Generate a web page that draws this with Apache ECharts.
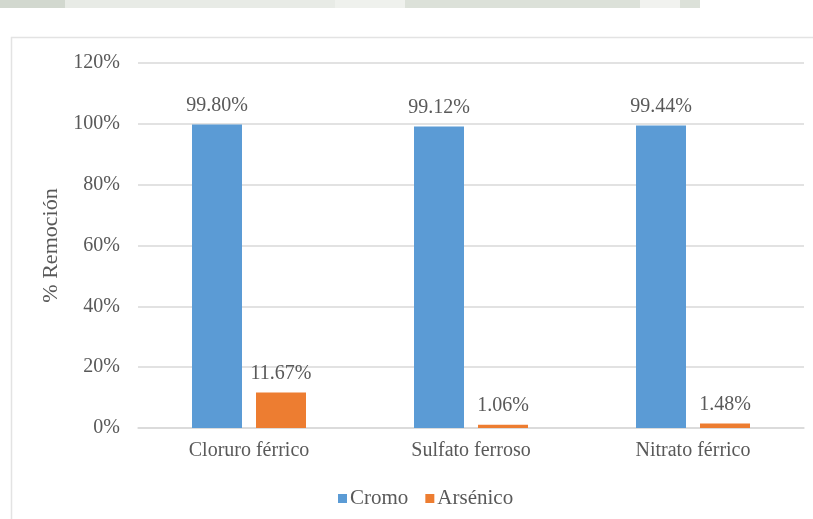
<!DOCTYPE html>
<html>
<head>
<meta charset="utf-8">
<script src="https://cdn.jsdelivr.net/npm/echarts@6/dist/echarts.min.js"></script>
<style>
  html, body { margin: 0; padding: 0; background: #ffffff; }
  #chart { width: 813px; height: 519px; }
</style>
</head>
<body>
<div id="chart"></div>
<script>
// Categories: coagulant used
const categories = ['Cloruro férrico', 'Sulfato ferroso', 'Nitrato férrico'];
// Removal percentages per metal
const cromo = [99.80, 99.12, 99.44];
const arsenico = [11.67, 1.06, 1.48];
// Y axis ticks
const yTicks = [0, 20, 40, 60, 80, 100, 120];

const font = 'Liberation Serif, Times New Roman, serif';
const textColor = '#595959';

const chart = echarts.init(document.getElementById('chart'), null, { renderer: 'canvas' });

const labelStyle = {
  show: true,
  position: 'top',
  distance: 9,
  fontFamily: font,
  fontSize: 20,
  color: textColor,
  formatter: p => p.value.toFixed(2) + '%'
};

chart.setOption({
  backgroundColor: '#ffffff',
  animation: false,
  graphic: [
    // faded header strip at the very top
    { type: 'rect', shape: { x: 0, y: 0, width: 700, height: 8 }, style: { fill: '#dce1d9' }, silent: true },
    { type: 'rect', shape: { x: 0, y: 0, width: 65, height: 8 }, style: { fill: '#d2d8cf' }, silent: true },
    { type: 'rect', shape: { x: 65, y: 0, width: 270, height: 8 }, style: { fill: '#e8ebe6' }, silent: true },
    { type: 'rect', shape: { x: 335, y: 0, width: 70, height: 8 }, style: { fill: '#eff1ed' }, silent: true },
    { type: 'rect', shape: { x: 640, y: 0, width: 40, height: 8 }, style: { fill: '#f1f2ef' }, silent: true },
    // chart area frame
    { type: 'rect', shape: { x: 11.5, y: 37.5, width: 820, height: 500 },
      style: { fill: 'none', stroke: '#e3e3e3', lineWidth: 1.5 }, silent: true }
  ],
  grid: { left: 138, right: 9, top: 63, bottom: 91, containLabel: false },
  legend: {
    data: ['Cromo', 'Arsénico'],
    left: 333,
    top: 483,
    icon: 'rect',
    itemWidth: 9,
    itemHeight: 9,
    itemGap: 17,
    textStyle: { fontFamily: font, fontSize: 21, color: textColor, padding: [0, 0, 0, -2] }
  },
  xAxis: {
    type: 'category',
    data: categories,
    axisLine: { lineStyle: { color: '#d9d9d9', width: 1.5 } },
    axisTick: { show: false },
    axisLabel: { fontFamily: font, fontSize: 20, color: textColor, margin: 13 }
  },
  yAxis: {
    type: 'value',
    min: yTicks[0],
    max: yTicks[yTicks.length - 1],
    interval: 20,
    name: '% Remoción',
    nameLocation: 'middle',
    nameGap: 65,
    nameRotate: 90,
    nameTextStyle: { fontFamily: font, fontSize: 22, color: textColor },
    axisLine: { show: false },
    axisTick: { show: false },
    splitLine: { lineStyle: { color: '#d9d9d9', width: 1.5 } },
    axisLabel: {
      fontFamily: font, fontSize: 20, color: textColor, margin: 18,
      formatter: v => v + '%'
    }
  },
  series: [
    {
      name: 'Cromo',
      type: 'bar',
      data: cromo,
      barWidth: 50,
      barGap: '28%',
      itemStyle: { color: '#5b9bd5' },
      label: labelStyle
    },
    {
      name: 'Arsénico',
      type: 'bar',
      data: arsenico,
      barWidth: 50,
      itemStyle: { color: '#ed7d31' },
      label: labelStyle
    }
  ]
});
</script>
</body>
</html>
